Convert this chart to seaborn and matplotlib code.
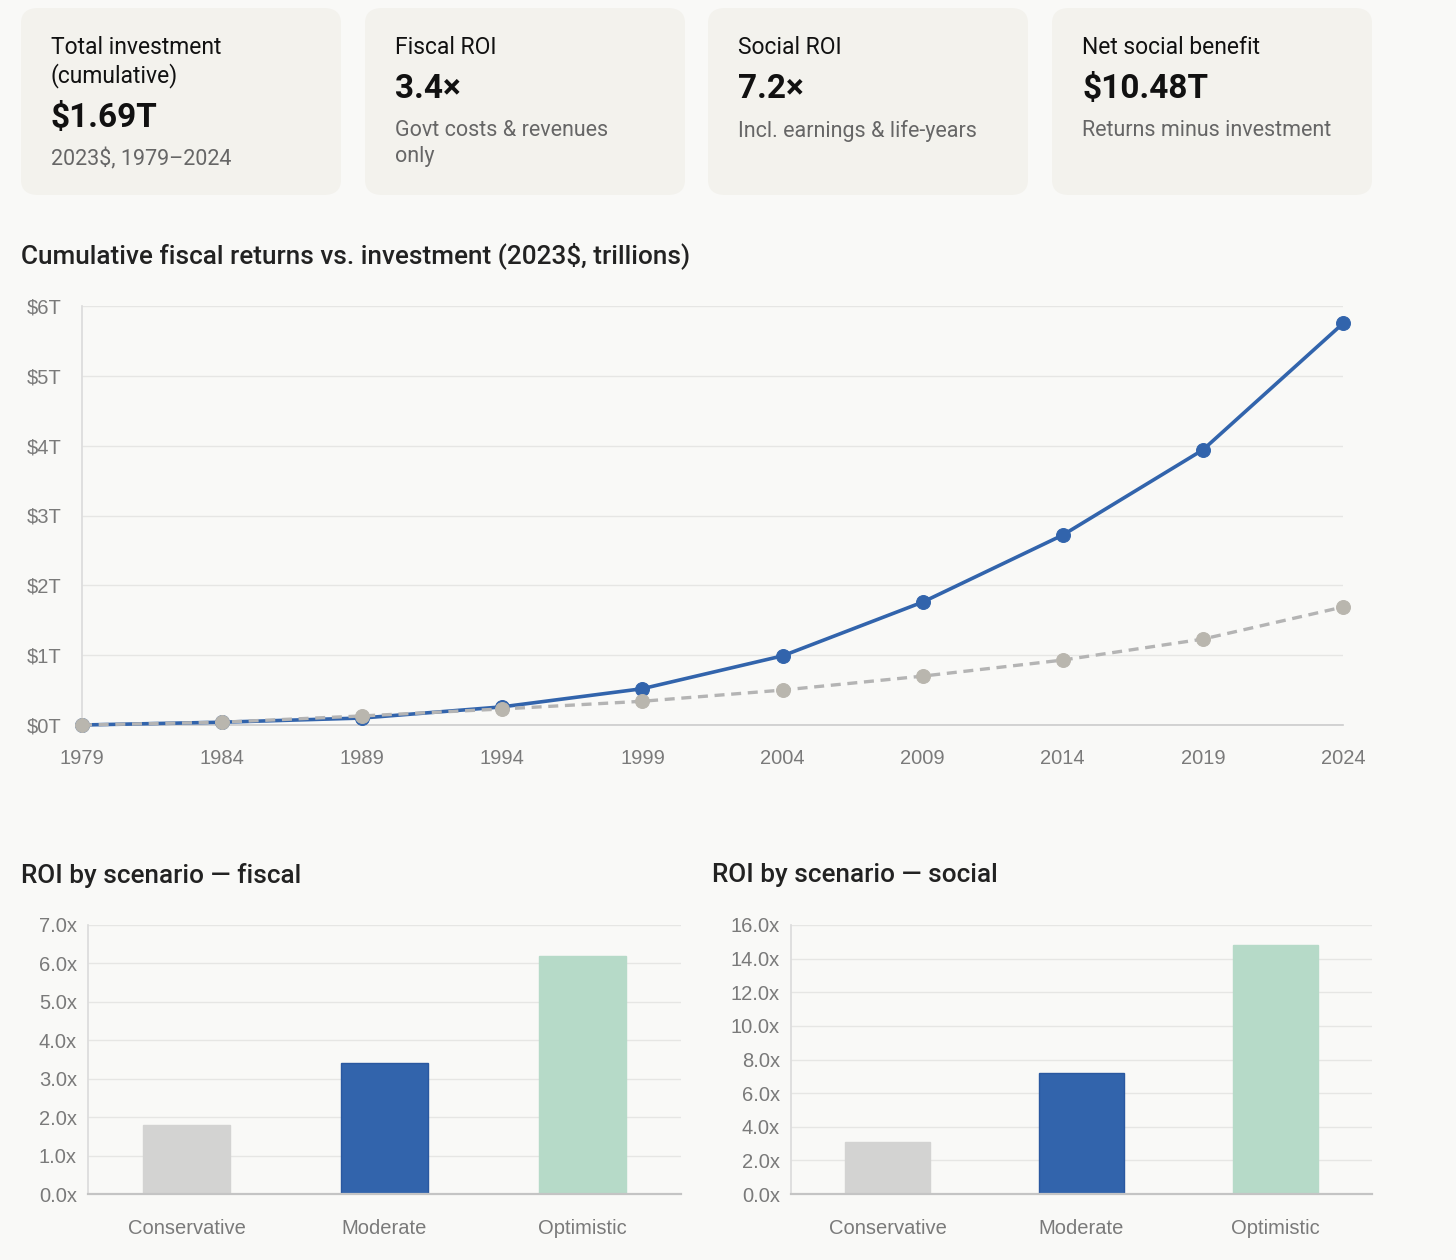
import matplotlib
matplotlib.use('Agg')
import matplotlib.pyplot as plt
import seaborn as sns
import pandas as pd
from matplotlib.patches import FancyBboxPatch
from matplotlib.ticker import FuncFormatter

# --- data ---
years = [1979, 1984, 1989, 1994, 1999, 2004, 2009, 2014, 2019, 2024]
returns_t = [0.0, 0.04, 0.10, 0.26, 0.52, 0.99, 1.76, 2.72, 3.94, 5.75]
investment_t = [0.0, 0.04, 0.13, 0.23, 0.34, 0.50, 0.70, 0.93, 1.23, 1.69]

scenarios = ['Conservative', 'Moderate', 'Optimistic']
fiscal_roi = [1.8, 3.4, 6.2]
social_roi = [3.1, 7.2, 14.8]

card_titles = ['Total investment\n(cumulative)', 'Fiscal ROI', 'Social ROI', 'Net social benefit']
card_values = ['$1.69T', '3.4×', '7.2×', '$10.48T']
card_notes = ['2023$, 1979–2024', 'Govt costs & revenues\nonly',
              'Incl. earnings & life-years', 'Returns minus investment']

BG = '#f9f9f7'
CARD = '#f3f2ed'
BLUE = '#3264ac'
GREY_LINE = '#b4b4b4'
GREY_DOT = '#b9b6ae'
BAR_COLORS = ['#d3d3d2', BLUE, '#b6dac8']
TICK = '#7a7a7a'
GRID = '#e6e6e4'
TXT = '#111111'
SUB = '#666666'
UI_FONT = ['Roboto', 'DejaVu Sans']

W, H = 1456, 1260

sns.set_theme(style='white')
plt.rcParams['font.family'] = ['Liberation Sans', 'DejaVu Sans']

fig = plt.figure(figsize=(W / 100, H / 100), dpi=100, facecolor=BG)


def px_axes(x0, y0, x1, y1):
    return fig.add_axes([x0 / W, 1 - y1 / H, (x1 - x0) / W, (y1 - y0) / H])


def fx(x):
    return x / W


def fy(y):
    return 1 - y / H


# --- KPI cards ---
card_x = [21, 365, 708, 1052]
for i, x in enumerate(card_x):
    fig.patches.append(FancyBboxPatch((fx(x), fy(195)), fx(320), (195 - 8) / H,
                                      boxstyle='round,pad=0,rounding_size=0.012',
                                      transform=fig.transFigure, facecolor=CARD,
                                      edgecolor='none', zorder=0))
    tx = x + 30
    two_line = '\n' in card_titles[i]
    fig.text(fx(tx), fy(36), card_titles[i], fontsize=16.5, color=TXT, va='top',
             family=UI_FONT, linespacing=1.22)
    vy = 118 if two_line else 89
    fig.text(fx(tx), fy(vy), card_values[i], fontsize=24, fontweight='bold', color=TXT,
             va='center', family=UI_FONT)
    ny = 148 if two_line else 120
    fig.text(fx(tx), fy(ny), card_notes[i], fontsize=15.5, color=SUB, va='top',
             family=UI_FONT, linespacing=1.3)

# --- line chart ---
fig.text(fx(21), fy(256), 'Cumulative fiscal returns vs. investment (2023$, trillions)',
         fontsize=18.8, fontweight='medium', color='#222222', va='center', family=UI_FONT)

ax = px_axes(82, 306, 1343, 725)
ax.set_facecolor(BG)
line_df = pd.DataFrame({'year': years, 'returns': returns_t, 'investment': investment_t})
sns.lineplot(data=line_df, x='year', y='returns', ax=ax, color=BLUE, linewidth=2.6,
             marker='o', markersize=10, markeredgecolor=BLUE, clip_on=False, zorder=3)
sns.lineplot(data=line_df, x='year', y='investment', ax=ax, color=GREY_LINE, linewidth=2.4,
             linestyle=(0, (3, 2)), marker='o', markersize=10, markeredgecolor=GREY_DOT,
             markerfacecolor=GREY_DOT, clip_on=False, zorder=4)
ax.set_xlim(1979, 2024)
ax.set_ylim(0, 6)
ax.set_xticks(years)
ax.set_yticks(range(0, 7))
ax.yaxis.set_major_formatter(FuncFormatter(lambda v, p: f'${int(v)}T'))
ax.grid(axis='y', color=GRID, linewidth=1)
ax.set_axisbelow(True)
ax.set_xlabel('')
ax.set_ylabel('')
for s in ['top', 'right']:
    ax.spines[s].set_visible(False)
ax.spines['left'].set_color('#dcdcdc')
ax.spines['bottom'].set_color('#cccccc')
ax.spines['bottom'].set_linewidth(1.2)
ax.tick_params(axis='x', length=0, pad=17, labelsize=14.5, colors=TICK)
ax.tick_params(axis='y', length=0, pad=15, labelsize=14.5, colors=TICK)

# --- bar charts ---
def bar_panel(box, values, ymax, step, title, title_x):
    bax = px_axes(*box)
    bax.set_facecolor(BG)
    df = pd.DataFrame({'scenario': scenarios, 'roi': values})
    sns.barplot(data=df, x='scenario', y='roi', hue='scenario', palette=BAR_COLORS,
                legend=False, width=0.44, ax=bax, saturation=1)
    for p, c in zip(bax.patches, BAR_COLORS):
        p.set_edgecolor('#2a58a0' if c == BLUE else c)
        p.set_linewidth(1)
    bax.set_xlim(-0.5, 2.5)
    bax.set_ylim(0, ymax)
    ticks = [i * step for i in range(int(round(ymax / step)) + 1)]
    bax.set_yticks(ticks)
    bax.yaxis.set_major_formatter(FuncFormatter(lambda v, p: f'{v:.1f}x'))
    bax.grid(axis='y', color=GRID, linewidth=1)
    bax.set_axisbelow(True)
    bax.set_xlabel('')
    bax.set_ylabel('')
    for s in ['top', 'right']:
        bax.spines[s].set_visible(False)
    bax.spines['left'].set_color('#dcdcdc')
    bax.spines['bottom'].set_color('#c4c4c4')
    bax.spines['bottom'].set_linewidth(1.6)
    bax.tick_params(axis='y', length=7, width=1, pad=1, labelsize=14.5, colors=TICK)
    bax.tick_params(axis='y', color=GRID)
    bax.tick_params(axis='x', length=0, pad=18, labelsize=14.5, colors=TICK)
    fig.text(fx(title_x), fy(875), title, fontsize=18.8, fontweight='medium', color='#222222',
             va='center', family=UI_FONT)
    return bax


bar_panel((88, 925, 681, 1194), fiscal_roi, 7.0, 1.0, 'ROI by scenario — fiscal', 21)
bar_panel((791, 925, 1372, 1194), social_roi, 16.0, 2.0, 'ROI by scenario — social', 712)

fig.savefig('out.png', dpi=100, facecolor=BG)
